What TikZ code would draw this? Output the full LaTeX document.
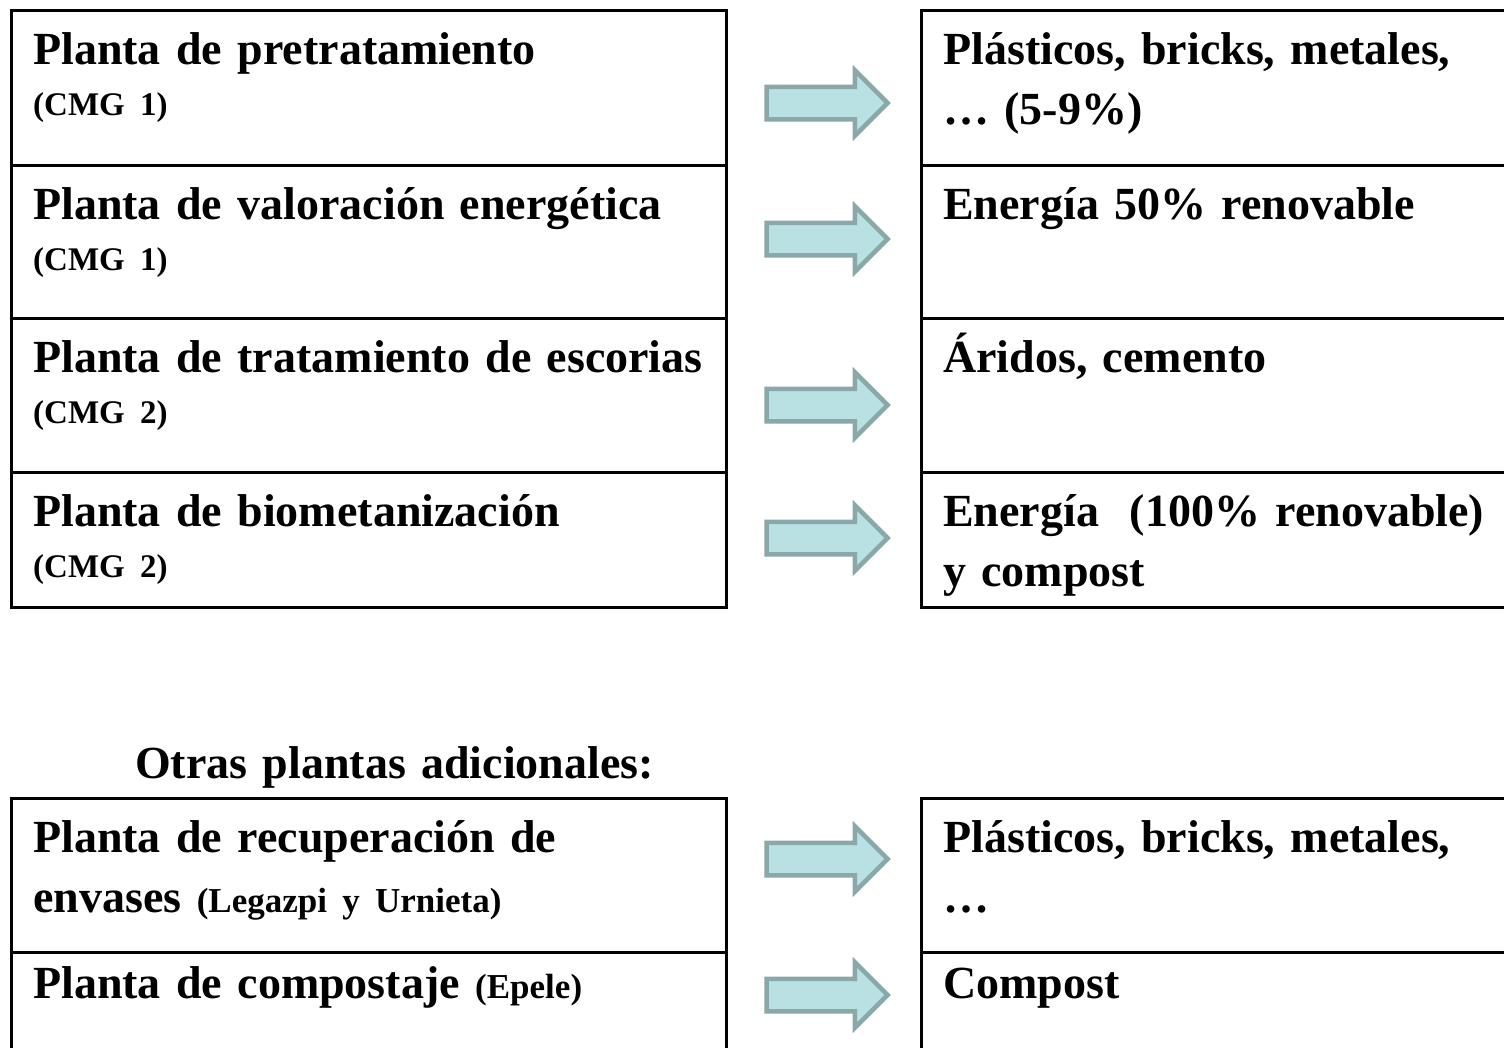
\documentclass[tikz,border=0pt]{standalone}
\usepackage{fontspec}
\setmainfont{Liberation Serif}
\usetikzlibrary{positioning}
\usetikzlibrary{shapes.arrows}
\usepackage{xcolor}
\definecolor{arrowfill}{HTML}{B9E0E3}
\definecolor{arrowline}{HTML}{8AA8A8}

\begin{document}
\begin{tikzpicture}[x=1pt, y=-1pt,
    cell/.style={draw, line width=3pt, anchor=north west, inner sep=0pt, outer sep=0pt, minimum width=715pt},
    rcell/.style={cell, minimum width=640pt},
    txt/.style={inner sep=0pt, text width=700pt, align=left, font=\bfseries\fontsize{46}{60}\selectfont},
    blockarrow/.style={single arrow, draw=arrowline, fill=arrowfill, line width=4.5pt, inner xsep=0pt, inner ysep=14pt, minimum height=121pt, single arrow head extend=16.5pt, single arrow tip angle=90}]
     \useasboundingbox (0,0) rectangle (1504,1047);
     \clip (0,0) rectangle (1504,1047);

     % upper table, left column
     \node[cell, minimum height=155pt] (l1) at (11,10) {};
     \node[cell, minimum height=153pt] (l2) at (l1.south west) {};
     \node[cell, minimum height=154pt] (l3) at (l2.south west) {};
     \node[cell, minimum height=135pt] (l4) at (l3.south west) {};
     % upper table, right column
     \node[rcell, minimum height=155pt] (r1) at (921,10) {};
     \node[rcell, minimum height=153pt] (r2) at (r1.south west) {};
     \node[rcell, minimum height=154pt] (r3) at (r2.south west) {};
     \node[rcell, minimum height=135pt] (r4) at (r3.south west) {};

     \node[txt, below right=54pt and 22pt of l1.north west, anchor=base west] (tl1) {Planta de pretratamiento\\[-9pt]{\fontsize{33}{40}\selectfont (CMG 1)}};
     \node[txt, below right=54pt and 22pt of l2.north west, anchor=base west] (tl2) {Planta de valoración energética\\[-9pt]{\fontsize{33}{40}\selectfont (CMG 1)}};
     \node[txt, below right=54pt and 22pt of l3.north west, anchor=base west] (tl3) {Planta de tratamiento de escorias\\[-9pt]{\fontsize{33}{40}\selectfont (CMG 2)}};
     \node[txt, below right=54pt and 22pt of l4.north west, anchor=base west] (tl4) {Planta de biometanización\\[-9pt]{\fontsize{33}{40}\selectfont (CMG 2)}};

     \node[txt, below right=54pt and 22pt of r1.north west, anchor=base west] (tr1) {Plásticos, bricks, metales,\\ … (5-9\%)};
     \node[txt, below right=54pt and 22pt of r2.north west, anchor=base west] (tr2) {Energía 50\% renovable};
     \node[txt, below right=54pt and 22pt of r3.north west, anchor=base west] (tr3) {Áridos, cemento};
     \node[txt, below right=54pt and 22pt of r4.north west, anchor=base west] (tr4) {Energía\ \ (100\% renovable)\\ y compost};

     \node[blockarrow] (a1) at (819,103) {};
     \node[blockarrow] (a2) at (819,239) {};
     \node[blockarrow] (a3) at (819,405) {};
     \node[blockarrow] (a4) at (819,538) {};

     % lower table
     \node[cell, minimum height=154pt] (l5) at (11,798) {};
     \node[cell, minimum height=170pt] (l6) at (l5.south west) {};
     \node[rcell, minimum height=154pt] (r5) at (921,798) {};
     \node[rcell, minimum height=170pt] (r6) at (r5.south west) {};

     \node[txt, above right=20pt and 124pt of l5.north west, anchor=base west] (otras) {Otras plantas adicionales:};

     \node[txt, below right=54pt and 22pt of l5.north west, anchor=base west] (tl5) {Planta de recuperación de\\ envases {\fontsize{35}{40}\selectfont (Legazpi y Urnieta)}};
     \node[txt, below right=46pt and 22pt of l6.north west, anchor=base west] (tl6) {Planta de compostaje {\fontsize{35}{40}\selectfont (Epele)}};
     \node[txt, below right=54pt and 22pt of r5.north west, anchor=base west] (tr5) {Plásticos, bricks, metales,\\ …};
     \node[txt, below right=46pt and 22pt of r6.north west, anchor=base west] (tr6) {Compost};

     \node[blockarrow] (a5) at (819,859) {};
     \node[blockarrow] (a6) at (819,995) {};
   \end{tikzpicture}
\end{document}
